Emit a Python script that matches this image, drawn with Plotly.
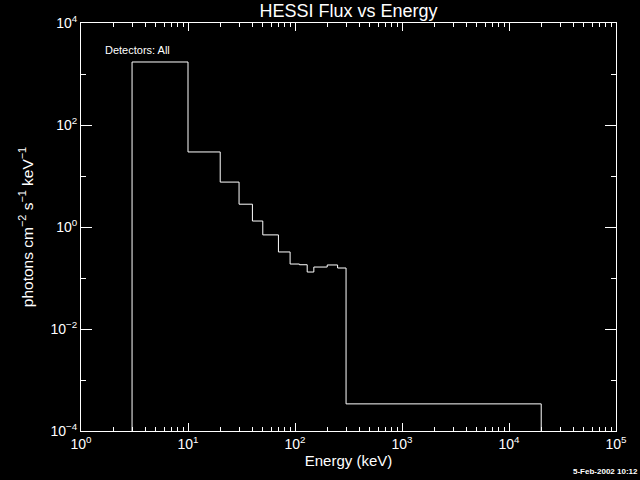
import plotly.graph_objects as go

# Energy bin edges (keV) and flux per bin (photons cm^-2 s^-1 keV^-1)
bin_edges = [3, 10, 20, 30, 40, 50, 70, 90, 110, 130, 150, 200, 250, 300, 20000]
flux = [1720, 29.6, 7.6, 2.8, 1.31, 0.70, 0.324, 0.188, 0.182, 0.131, 0.164, 0.180, 0.157, 3.4e-4]
y_floor = 1e-4

# axis ticks
x_major = [1, 10, 100, 1000, 10000, 100000]
x_labels = ["10<sup>0</sup>", "10<sup>1</sup>", "10<sup>2</sup>", "10<sup>3</sup>", "10<sup>4</sup>", "10<sup>5</sup>"]
x_minor = [m * d for d in [1, 10, 100, 1000, 10000] for m in range(2, 10)]
y_major = [1e-4, 1e-2, 1, 1e2, 1e4]
y_labels = ["10<sup>−4</sup>", "10<sup>−2</sup>", "10<sup>0</sup>", "10<sup>2</sup>", "10<sup>4</sup>"]
y_minor = [1e-3, 1e-1, 1e1, 1e3]

title_text = "HESSI Flux vs Energy"
x_title = "Energy (keV)"
y_title = "photons cm<sup>−2</sup> s<sup>−1</sup> keV<sup>−1</sup>"
label_text = "Detectors: All"
date_text = "<b>5-Feb-2002 10:12</b>"

# histogram outline: rise from floor at first edge, steps, drop to floor at last edge
xs = [bin_edges[0]] + bin_edges
ys = [y_floor] + flux + [y_floor]

FONT = "Liberation Sans"

fig = go.Figure()
fig.add_trace(go.Scatter(
    x=xs, y=ys, mode="lines", line=dict(color="white", width=1, shape="hv"),
    hoverinfo="skip", showlegend=False,
))
# invisible twin trace so the top/right tick axes are drawn
fig.add_trace(go.Scatter(
    x=xs, y=ys, mode="lines", line=dict(color="rgba(0,0,0,0)", width=0),
    xaxis="x2", yaxis="y2", hoverinfo="skip", showlegend=False,
))

tick_style = dict(showgrid=False, zeroline=False, tickcolor="white", tickwidth=1,
                  ticks="inside", tickmode="array")

fig.update_layout(
    xaxis=dict(
        type="log", range=[0, 5], showline=True, linecolor="white", linewidth=1, mirror=True,
        ticklen=8, tickvals=x_major, ticktext=x_labels, **tick_style,
        minor=dict(ticks="inside", tickmode="array", tickvals=x_minor, ticklen=4,
                   tickcolor="white", tickwidth=1, showgrid=False),
        tickfont=dict(family=FONT, size=14, color="white"),
        title=dict(text=x_title, font=dict(family=FONT, size=15, color="white"), standoff=2),
    ),
    yaxis=dict(
        type="log", range=[-4, 4], showline=True, linecolor="white", linewidth=1, mirror=True,
        ticklen=11, tickvals=y_major, ticktext=y_labels, **tick_style,
        minor=dict(ticks="inside", tickmode="array", tickvals=y_minor, ticklen=5,
                   tickcolor="white", tickwidth=1, showgrid=False),
        tickfont=dict(family=FONT, size=14, color="white"),
        title=dict(text=y_title, font=dict(family=FONT, size=15.5, color="white"), standoff=13),
    ),
    xaxis2=dict(
        type="log", range=[0, 5], overlaying="x", side="top", showline=False,
        showticklabels=False, ticklen=8, tickvals=x_major, **tick_style,
        minor=dict(ticks="inside", tickmode="array", tickvals=x_minor, ticklen=4,
                   tickcolor="white", tickwidth=1, showgrid=False),
    ),
    yaxis2=dict(
        type="log", range=[-4, 4], overlaying="y", side="right", showline=False,
        showticklabels=False, ticklen=11, tickvals=y_major, **tick_style,
        minor=dict(ticks="inside", tickmode="array", tickvals=y_minor, ticklen=5,
                   tickcolor="white", tickwidth=1, showgrid=False),
    ),
    width=640, height=480,
    paper_bgcolor="black", plot_bgcolor="black",
    margin=dict(l=81, r=24, t=23, b=49, autoexpand=False),
    title=dict(text=title_text, x=0.5445, xanchor="center", y=0.977, yanchor="middle",
               font=dict(family=FONT, size=18, color="white")),
    annotations=[
        dict(text=label_text, xref="paper", yref="paper", x=0.042, y=0.934,
             xanchor="left", yanchor="middle", showarrow=False,
             font=dict(family=FONT, size=11, color="white")),
        dict(text=date_text, xref="paper", yref="paper", x=1.045, y=-0.100,
             xanchor="right", yanchor="middle", showarrow=False,
             font=dict(family=FONT, size=8, color="white")),
    ],
)

fig.write_html(
    "out.html",
    config={"displayModeBar": False},
    post_script="document.body.style.margin='0';document.body.style.background='black';",
)
